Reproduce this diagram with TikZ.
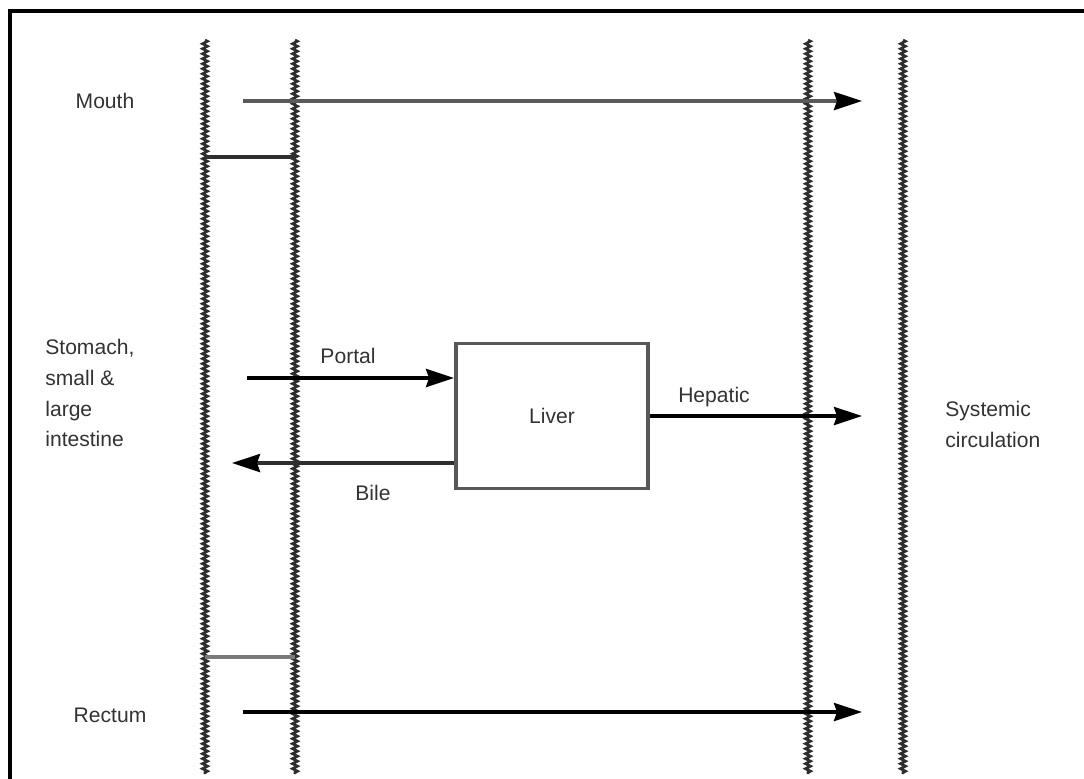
\documentclass[tikz,border=0pt]{standalone}
\usepackage{fontspec}
\setmainfont{Liberation Sans}
\usetikzlibrary{arrows.meta, positioning, decorations.pathmorphing}
\definecolor{WallGray}{HTML}{2E2E2E}
\definecolor{FlowGray}{HTML}{5A5A5A}
\definecolor{LabelGray}{HTML}{333333}
\tikzset{
    wall/.style={
        draw=WallGray,
        line width=1.5pt,
        decorate,
        decoration={zigzag, segment length=0.1cm, amplitude=0.05cm}
    },
    flow/.style={
        -{Stealth[length=5.6mm, width=3.6mm, inset=0.6mm, color=black]},
        line width=2.1pt,
        #1
    },
    flow/.default=black,
    shelf/.style={
        draw=#1,
        line width=2pt
    },
    shelf/.default=WallGray,
    organ/.style={
        draw=WallGray!80,
        line width=2.2pt,
        fill=white,
        minimum width=3.84cm,
        minimum height=2.9cm,
        inner sep=0pt
    },
    tag/.style={
        text=LabelGray,
        font=\fontsize{12}{17.6}\selectfont,
        inner sep=0pt
    }
}
\begin{document}
\begin{tikzpicture}[x=0.02cm, y=-0.02cm]
        \useasboundingbox (0,0) rectangle (1084,778);

        % Frame
        \coordinate (frameleft) at (10,778);
        \coordinate (framecorner) at (10,11);
        \coordinate (frameright) at (1084,11);
        \draw[line width=1.8pt, line cap=rect] (frameleft) -- (framecorner) -- (frameright);

        % Membranes
        \foreach \wx [count=\i] in {205,295,808,903} {
            \coordinate (walltop\i) at (\wx,40);
            \coordinate (wallbot\i) at (\wx,774);
            \draw[wall] (walltop\i) -- (wallbot\i);
        }

        % Shelves between first two membranes
        \coordinate (shelfa1) at (205,157);
        \coordinate (shelfa2) at (295,157);
        \coordinate (shelfb1) at (205,657);
        \coordinate (shelfb2) at (295,657);
        \draw[shelf] (shelfa1) -- (shelfa2);
        \draw[shelf=FlowGray!80] (shelfb1) -- (shelfb2);

        % Liver box
        \node[organ] (liver) at (552,416) {};
        \node[tag] (liverlabel) at (liver.center) {Liver};

        % Mouth route
        \node[tag] (mouth) at (105,101) {Mouth};
        \coordinate (mouthstart) at (243,101);
        \coordinate (mouthend) at (862,101);
        \draw[flow=FlowGray] (mouthstart) -- (mouthend);

        % Gut route
        \node[tag, align=left, anchor=west] (gut) at (45,393) {Stomach,\\small \&\\large\\intestine};
        \coordinate (portalstart) at (247,378);
        \draw[flow] (portalstart) -- (portalstart -| liver.west);
        \node[tag] (portal) at (348,356) {Portal};
        \coordinate (hepaticend) at (862,416);
        \draw[flow] (liver.east |- hepaticend) -- (hepaticend);
        \node[tag] (hepatic) at (714,397) {Hepatic};
        \coordinate (bileend) at (232,463);
        \draw[flow=WallGray] (liver.west |- bileend) -- (bileend);
        \node[tag] (bile) at (373,493) {Bile};

        % Rectum route
        \node[tag] (rectum) at (110,715) {Rectum};
        \coordinate (rectumstart) at (243,712);
        \coordinate (rectumend) at (862,712);
        \draw[flow] (rectumstart) -- (rectumend);

        % Systemic circulation
        \node[tag, align=left, anchor=west] (systemic) at (945,424) {Systemic\\circulation};
    \end{tikzpicture}
\end{document}
